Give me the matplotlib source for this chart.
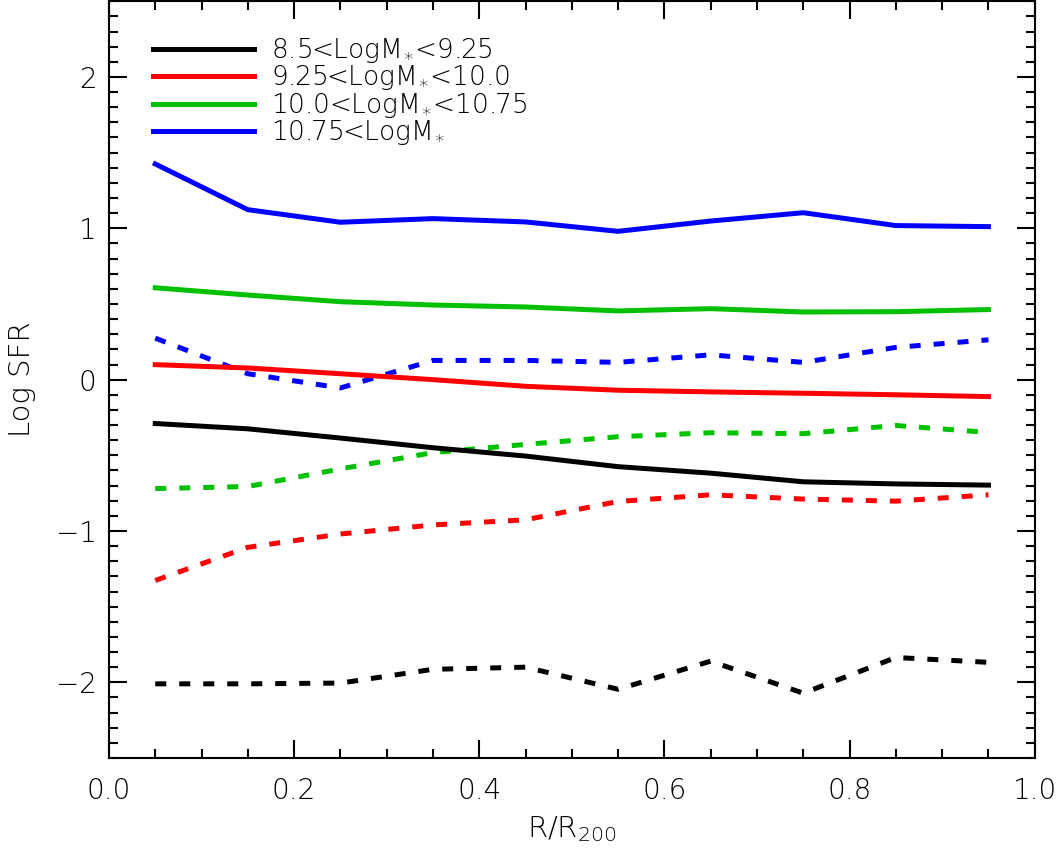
import numpy as np
import matplotlib.pyplot as plt
from matplotlib.lines import Line2D

# radial bins (R/R200)
r = [0.05, 0.15, 0.25, 0.35, 0.45, 0.55, 0.65, 0.75, 0.85, 0.95]

# solid lines
sfr_m1 = [-0.29, -0.325, -0.386, -0.45, -0.505, -0.575, -0.618, -0.675, -0.689, -0.697]
sfr_m2 = [0.099, 0.077, 0.039, 0.0, -0.044, -0.07, -0.081, -0.09, -0.1, -0.112]
sfr_m3 = [0.607, 0.559, 0.515, 0.493, 0.48, 0.454, 0.469, 0.447, 0.449, 0.463]
sfr_m4 = [1.425, 1.123, 1.04, 1.064, 1.042, 0.98, 1.048, 1.103, 1.018, 1.011]

# dashed lines
sfr_m1_d = [-2.01, -2.01, -2.005, -1.914, -1.90, -2.046, -1.86, -2.072, -1.836, -1.868]
sfr_m2_d = [-1.327, -1.108, -1.02, -0.96, -0.926, -0.805, -0.761, -0.789, -0.803, -0.761]
sfr_m3_d = [-0.72, -0.706, -0.59, -0.482, -0.428, -0.377, -0.351, -0.357, -0.303, -0.349]
sfr_m4_d = [0.274, 0.039, -0.055, 0.127, 0.127, 0.114, 0.164, 0.114, 0.213, 0.263]

labels = ["8.5<LogM$_{\\ast}$<9.25", "9.25<LogM$_{\\ast}$<10.0",
          "10.0<LogM$_{\\ast}$<10.75", "10.75<LogM$_{\\ast}$"]
colors = ["black", "#ff0000", "#00c000", "#0000ff"]

plt.rcParams['font.family'] = ['DejaVu Sans']
plt.rcParams['font.weight'] = 'light'
plt.rcParams['mathtext.fontset'] = 'dejavusans'

fig = plt.figure(figsize=(10.58, 8.56), dpi=100)
ax = fig.add_axes([0.103, 0.1145, 0.875, 0.884])

lw = 3.6
solid = [sfr_m1, sfr_m2, sfr_m3, sfr_m4]
dashed = [sfr_m1_d, sfr_m2_d, sfr_m3_d, sfr_m4_d]
for ys, c in zip(dashed, colors):
    ax.plot(r, ys, color=c, lw=lw, dashes=(2.2, 2.6), dash_capstyle='butt')
for ys, c in zip(solid, colors):
    ax.plot(r, ys, color=c, lw=lw, solid_joinstyle='miter')

ax.set_xlim(0, 1)
ax.set_ylim(-2.5, 2.5)
ax.set_xticks([0.0, 0.2, 0.4, 0.6, 0.8, 1.0])
ax.set_xticklabels(["0.0", "0.2", "0.4", "0.6", "0.8", "1.0"])
ax.set_xticks(np.arange(0, 1.0001, 0.05), minor=True)
ax.set_yticks([-2, -1, 0, 1, 2])
ax.set_yticklabels(["\u22122", "\u22121", "0", "1", "2"])
ax.set_yticks(np.arange(-2.5, 2.5001, 0.1), minor=True)

ax.tick_params(which='both', direction='in', top=True, right=True, width=1.5)
ax.tick_params(which='major', length=12.7, labelsize=20)
ax.tick_params(axis='x', which='major', pad=14)
ax.tick_params(axis='y', which='major', pad=9)
ax.tick_params(which='minor', length=6.5)
for s in ax.spines.values():
    s.set_linewidth(1.5)

ax.set_xlabel("R/R$_{200}$", fontsize=21, fontweight='light', labelpad=6)
ax.set_ylabel("Log SFR", fontsize=21, fontweight='light', labelpad=14)

handles = [Line2D([], [], color=c, lw=lw) for c in colors]
ax.legend(handles, labels, loc='upper left', bbox_to_anchor=(0.025, 0.982),
          frameon=False, fontsize=19, handlelength=3.8, handletextpad=0.65,
          labelspacing=-0.06, borderpad=0.3)

fig.savefig("out.png", dpi=100)
